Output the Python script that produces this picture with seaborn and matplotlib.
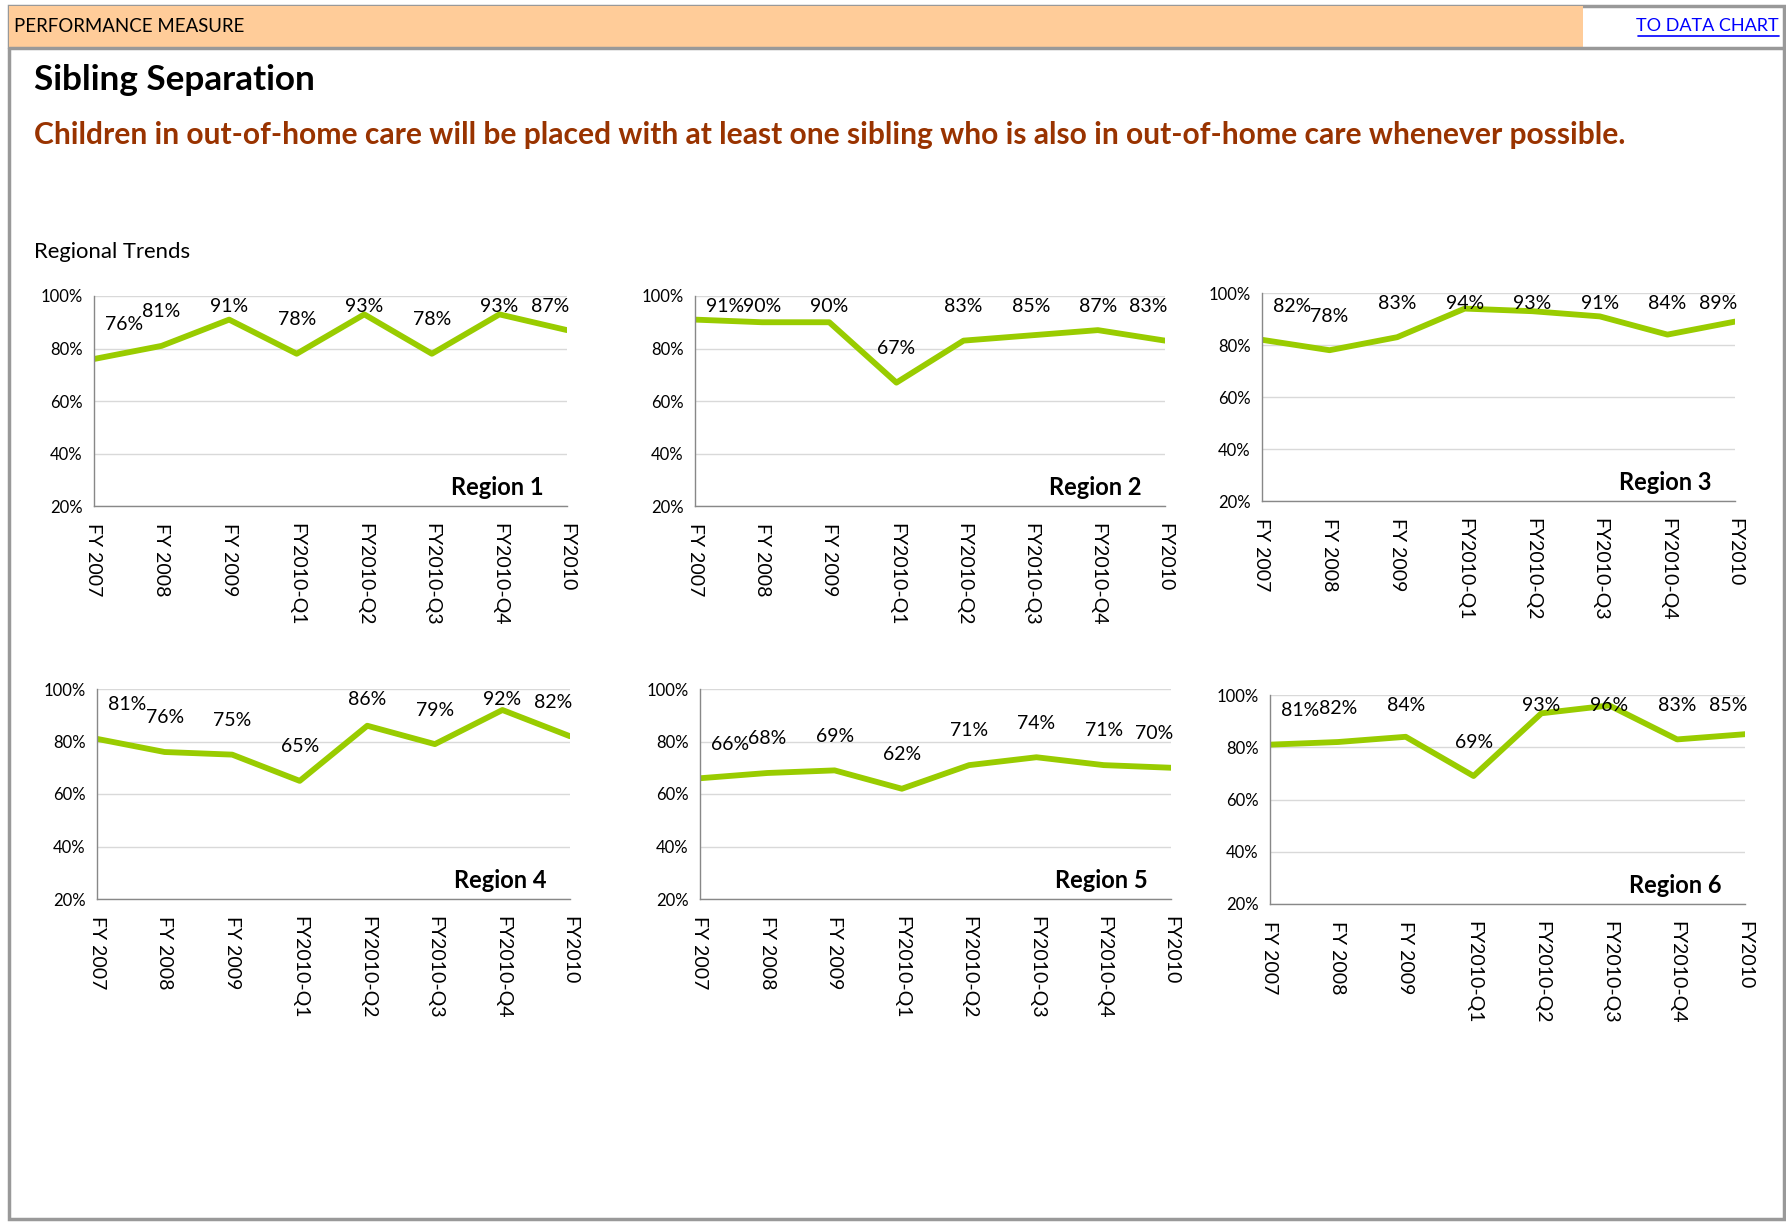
import pandas as pd
import matplotlib.pyplot as plt
import seaborn as sns
from matplotlib.patches import Rectangle
from matplotlib.lines import Line2D

# chart values
periods = ['FY 2007', 'FY 2008', 'FY 2009', 'FY2010-Q1', 'FY2010-Q2',
           'FY2010-Q3', 'FY2010-Q4', 'FY2010']
region_1 = [76, 81, 91, 78, 93, 78, 93, 87]
region_2 = [91, 90, 90, 67, 83, 85, 87, 83]
region_3 = [82, 78, 83, 94, 93, 91, 84, 89]
region_4 = [81, 76, 75, 65, 86, 79, 92, 82]
region_5 = [66, 68, 69, 62, 71, 74, 71, 70]
region_6 = [81, 82, 84, 69, 93, 96, 83, 85]
region_names = ['Region 1', 'Region 2', 'Region 3', 'Region 4', 'Region 5', 'Region 6']
y_ticks = [20, 40, 60, 80, 100]

W, H = 1786, 1225
sns.set_style('white')
plt.rcParams['font.family'] = ['Lato', 'DejaVu Sans']
plt.rcParams['text.color'] = 'black'
plt.rcParams['xtick.color'] = 'black'
plt.rcParams['ytick.color'] = 'black'

fig = plt.figure(figsize=(W / 100, H / 100), dpi=100)


def box(x0, y0, x1, y1):
    return [x0 / W, 1 - y1 / H, (x1 - x0) / W, (y1 - y0) / H]


# page frame and header band
fig.patches.append(Rectangle((9 / W, 1 - 1219 / H), 1775 / W, 1213 / H, transform=fig.transFigure,
                             fill=False, edgecolor='#999999', linewidth=2.5))
fig.patches.append(Rectangle((9 / W, 1 - 48 / H), 1574 / W, 42 / H, transform=fig.transFigure,
                             facecolor='#FFCC99', edgecolor='none'))
fig.add_artist(Line2D([9 / W, 1784 / W], [1 - 48 / H, 1 - 48 / H], color='#999999', lw=2.5))
fig.text(14 / W, 1 - 26 / H, 'PERFORMANCE MEASURE', fontsize=13.4, va='center', ha='left')
fig.text(1779 / W, 1 - 26 / H, 'TO DATA CHART', fontsize=13, va='center', ha='right',
         color='#0000FF')
fig.add_artist(Line2D([1638 / W, 1779 / W], [1 - 36 / H, 1 - 36 / H], color='#0000FF', lw=1.2))

fig.text(34 / W, 1 - 80 / H, 'Sibling Separation', fontsize=25.3, fontweight='bold',
         va='center', ha='left')
fig.text(34 / W, 1 - 135 / H,
         'Children in out-of-home care will be placed with at least one sibling who is also '
         'in out-of-home care whenever possible.',
         fontsize=21.6, fontweight='bold', color='#993300', va='center', ha='left')
fig.text(34 / W, 1 - 252 / H, 'Regional Trends', fontsize=15.9, va='center', ha='left')

panels = [(94, 296, 567, 506), (695, 296, 1165, 506), (1262, 293, 1735, 501),
          (97, 689, 570, 899), (700, 689, 1171, 899), (1270, 695, 1745, 904)]
series = [region_1, region_2, region_3, region_4, region_5, region_6]

for pos, vals, name in zip(panels, series, region_names):
    ax = fig.add_axes(box(*pos))
    df = pd.DataFrame({'x': range(len(periods)), 'value': vals})
    sns.lineplot(data=df, x='x', y='value', ax=ax, color='#99CC00', linewidth=4.2)
    ax.set_xlim(0, len(periods) - 1)
    ax.set_ylim(20, 100)
    ax.set_yticks(y_ticks)
    ax.set_yticklabels([f'{t}%' for t in y_ticks], fontsize=12)
    ax.set_xticks(range(len(periods)))
    ax.set_xticklabels(periods, rotation=-90, fontsize=14, va='top', ha='center')
    ax.set_xlabel('')
    ax.set_ylabel('')
    ax.grid(axis='y', color='#D9D9D9', linewidth=1)
    ax.set_axisbelow(True)
    for s in ['top', 'right']:
        ax.spines[s].set_visible(False)
    for s in ['left', 'bottom']:
        ax.spines[s].set_color('#888888')
        ax.spines[s].set_linewidth(1)
    ax.tick_params(axis='both', length=5, color='#888888', labelcolor='black',
                   direction='out', pad=3)
    ax.tick_params(axis='x', pad=7)
    for i, v in enumerate(vals):
        lx = min(max(i, 0.45), len(periods) - 1.25)
        ly = min(v + 13, 96)
        ax.text(lx, ly, f'{v}%', fontsize=14, ha='center', va='center', clip_on=False)
    ax.text(0.95, 0.09, name, transform=ax.transAxes, fontsize=17, fontweight='bold',
            ha='right', va='center')

fig.savefig('out.png', dpi=100)
plt.close(fig)
